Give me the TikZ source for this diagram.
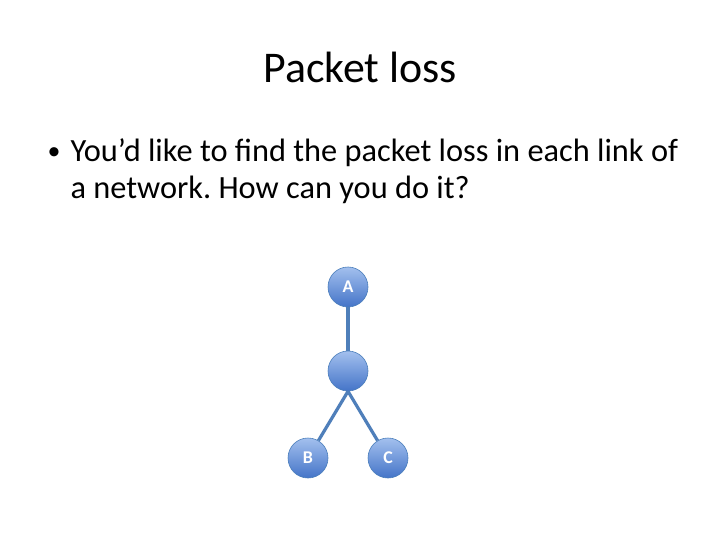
\documentclass[tikz,border=0pt]{standalone}
\usepackage{fontspec}
\setmainfont{Carlito}
\usetikzlibrary{positioning}
\definecolor{nodetop}{HTML}{A3C0EE}
\definecolor{nodebot}{HTML}{4474C8}
\definecolor{nodeline}{HTML}{4A7EBB}
\definecolor{linkblue}{HTML}{4F7FBA}
\tikzset{
  hostnode/.style={circle, draw=nodeline, semithick, top color=nodetop, bottom color=nodebot,
    minimum size=40bp, inner sep=0pt, text=white, font=\fontsize{18}{20}\selectfont\bfseries},
  link/.style={draw=linkblue, line width=3.2bp},
  slidetext/.style={anchor=base west, font=\fontsize{32.5}{38}\selectfont}
}
\frenchspacing

\begin{document}
\begin{tikzpicture}[x=1bp, y=-1bp]
  \useasboundingbox[fill=white] (0,0) rectangle (720,540);
  \node[anchor=base, font=\fontsize{44}{52}\selectfont] (title) at (360,83) {Packet loss};
  \node[anchor=base west, font=\fontsize{26}{30}\selectfont] (dot) at (44,160) {•};
  \node[slidetext] (line1) at (67,162) {You’d like to find the packet loss in each link of};
  \node[slidetext] (line2) at (67,199) {a network. How can you do it?};

  \node[hostnode] (A) at (348,287) {A};
  \node[hostnode] (M) at (348,371) {};
  \node[hostnode] (B) at (308,458) {B};
  \node[hostnode] (C) at (388,458) {C};
  \draw[link] (A) -- (M);
  \draw[link] (M.south) -- (B);
  \draw[link] (M.south) -- (C);
\end{tikzpicture}
\end{document}
